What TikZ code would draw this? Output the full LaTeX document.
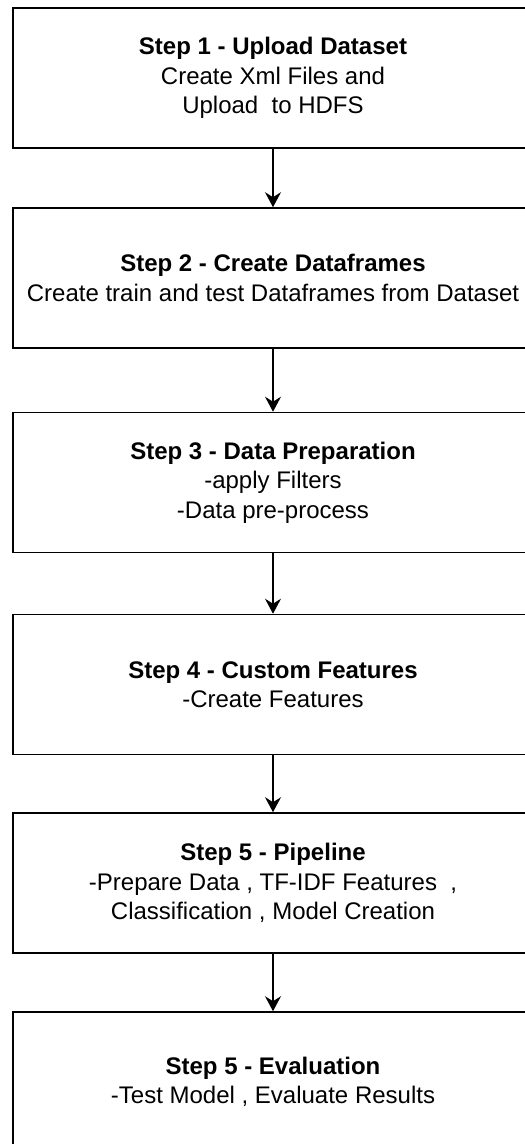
\documentclass[tikz,border=0pt]{standalone}
\usepackage{fontspec}
\setmainfont{Liberation Sans}
\usetikzlibrary{arrows.meta}

\begin{document}
\begin{tikzpicture}[x=1pt, y=1pt,
        stage box/.style = {draw, line width=1.6pt, rectangle, minimum width=520pt, minimum height=140pt, align=center, font=\fontsize{24}{29.5}\selectfont},
        flow arrow/.style = {line width=1.3pt, -{Stealth[length=15pt, width=16pt, inset=5pt]}}]
        \useasboundingbox (0,0) rectangle (525,-1144);
        \clip (0,0) rectangle (525,-1144);
        \node[stage box] (upload) at (273,-78) {\textbf{Step 1 - Upload Dataset}\\Create Xml Files and\\Upload\ \ to HDFS};
        \node[stage box] (frames) at (273,-278) {\textbf{Step 2 - Create Dataframes}\\Create train and test Dataframes from Dataset};
        \node[stage box] (prep) at (273,-482.5) {\textbf{Step 3 - Data Preparation}\\-apply Filters\\-Data pre-process};
        \node[stage box] (custom) at (273,-684.5) {\textbf{Step 4 - Custom Features}\\-Create Features};
        \node[stage box] (pipe) at (273,-883) {\textbf{Step 5 - Pipeline}\\-Prepare Data , TF-IDF Features\ \ ,\\Classification , Model Creation};
        \node[stage box] (eval) at (273,-1082) {\textbf{Step 5 - Evaluation}\\-Test Model , Evaluate Results};
        \draw[flow arrow] (upload) -- (frames);
        \draw[flow arrow] (frames) -- (prep);
        \draw[flow arrow] (prep) -- (custom);
        \draw[flow arrow] (custom) -- (pipe);
        \draw[flow arrow] (pipe) -- (eval);
    \end{tikzpicture}
\end{document}
